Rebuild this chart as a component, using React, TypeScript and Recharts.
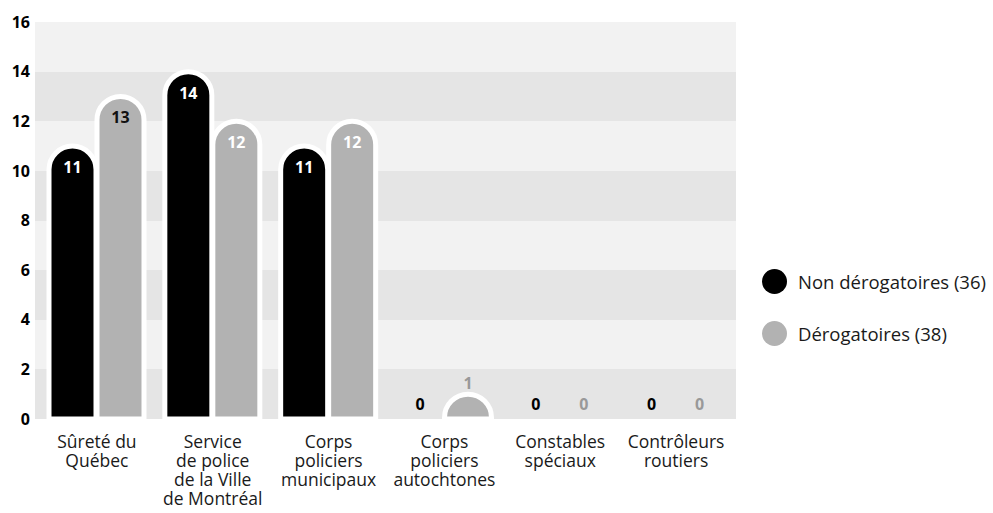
import React from 'react';
import { BarChart, Bar, XAxis, YAxis, CartesianGrid, LabelList } from 'recharts';

// Police bodies (line breaks mark where each label wraps)
const categories = [
  'Sûreté du\nQuébec',
  'Service\nde police\nde la Ville\nde Montréal',
  'Corps\npoliciers\nmunicipaux',
  'Corps\npoliciers\nautochtones',
  'Constables\nspéciaux',
  'Contrôleurs\nroutiers',
];
const nonDerogatoires = [11, 14, 11, 0, 0, 0];
const derogatoires = [13, 12, 12, 1, 0, 0];
const yTicks = [0, 2, 4, 6, 8, 10, 12, 14, 16];
const seriesNames = ['Non dérogatoires (36)', 'Dérogatoires (38)'];

const data = categories.map((name, i) => ({
  name,
  non: nonDerogatoires[i],
  der: derogatoires[i],
}));

const FONT = '"Open Sans", "Noto Sans", sans-serif';
const BLACK = '#000000';
const GREY = '#b2b2b2';
const GREY_TEXT = '#999999';

const CategoryTick = (props: any) => {
  const { x, y, payload } = props;
  const lines = String(payload.value).split('\n');
  return (
    <text x={x} y={y} textAnchor="middle" fontFamily={FONT} fontSize={17.5} fill="#1a1a1a">
      {lines.map((line, i) => (
        <tspan key={i} x={x} dy={i === 0 ? 29 : 19}>
          {line}
        </tspan>
      ))}
    </text>
  );
};

// Pill-shaped bar: a full half-circle cap on top. Empty categories keep a
// 1px slot (so their "0" label is placed) but draw nothing.
const DomeBar = (props: any) => {
  const { x, y, width: w, height: h, fill, value } = props;
  if (!Number(value)) return <g />;
  const r = Math.min(w / 2, h);
  const d = [
    `M${x},${y + h}`,
    `L${x},${y + r}`,
    `A${r},${r} 0 0 1 ${x + r},${y}`,
    `L${x + w - r},${y}`,
    `A${r},${r} 0 0 1 ${x + w},${y + r}`,
    `L${x + w},${y + h}`,
    'Z',
  ].join(' ');
  return <path d={d} fill={fill} stroke="#ffffff" strokeWidth={5} />;
};

// Value labels: inside the rounded top for tall bars, above it for short ones,
// and just over the baseline for empty categories.
const makeLabel = (series: 'non' | 'der') => (props: any) => {
  const { x, y, width, height, value, index } = props;
  const cx = x + width / 2;
  const v = Number(value);
  if (v === 0) {
    return (
      <text x={cx} y={y + height - 9} textAnchor="middle" fontFamily={FONT} fontSize={16} fontWeight={700}
        fill={series === 'non' ? BLACK : GREY_TEXT}>
        {v}
      </text>
    );
  }
  if (height < 40) {
    return (
      <text x={cx} y={y - 5} textAnchor="middle" fontFamily={FONT} fontSize={16} fontWeight={700} fill={GREY_TEXT}>
        {v}
      </text>
    );
  }
  const fill = series === 'der' && index === 0 ? '#111111' : '#ffffff';
  return (
    <text x={cx} y={y + 27} textAnchor="middle" fontFamily={FONT} fontSize={16} fontWeight={700} fill={fill}>
      {v}
    </text>
  );
};

export default function App() {
  return (
    <div style={{ position: 'absolute', left: 0, top: 0, width: 993, height: 513, background: '#fff' }}>
      <BarChart
        width={993}
        height={513}
        data={data}
        margin={{ top: 22, right: 257, bottom: 0, left: 0 }}
        barSize={47}
        barGap={1}
      >
        <CartesianGrid
          vertical={false}
          horizontal={true}
          stroke="none"
          horizontalFill={['#f2f2f2', '#e5e5e5']}
          fillOpacity={1}
        />
        <XAxis
          dataKey="name"
          height={94}
          axisLine={false}
          tickLine={false}
          tickSize={0}
          tickMargin={0}
          interval={0}
          padding={{ left: 4, right: 2 }}
          tick={<CategoryTick />}
        />
        <YAxis
          width={35}
          domain={[0, 16]}
          ticks={yTicks}
          interval={0}
          axisLine={false}
          tickLine={false}
          tickSize={3}
          tickMargin={2}
          tick={{ fontFamily: FONT, fontSize: 16, fontWeight: 700, fill: '#000' }}
        />
        <Bar dataKey="non" name={seriesNames[0]} fill={BLACK}
          minPointSize={1} shape={<DomeBar />} isAnimationActive={false}>
          <LabelList dataKey="non" content={makeLabel('non')} />
        </Bar>
        <Bar dataKey="der" name={seriesNames[1]} fill={GREY}
          minPointSize={1} shape={<DomeBar />} isAnimationActive={false}>
          <LabelList dataKey="der" content={makeLabel('der')} />
        </Bar>
      </BarChart>
      <div style={{ position: 'absolute', left: 762, top: 269, fontFamily: FONT, fontSize: 18.5, color: '#1a1a1a' }}>
        {seriesNames.map((n, i) => (
          <div key={n} style={{ display: 'flex', alignItems: 'center', height: 25, marginBottom: i === 0 ? 27 : 0 }}>
            <span style={{ display: 'inline-block', width: 25, height: 25, borderRadius: '50%',
              background: i === 0 ? BLACK : GREY, marginRight: 11 }} />
            <span style={{ lineHeight: '25px' }}>{n}</span>
          </div>
        ))}
      </div>
    </div>
  );
}
